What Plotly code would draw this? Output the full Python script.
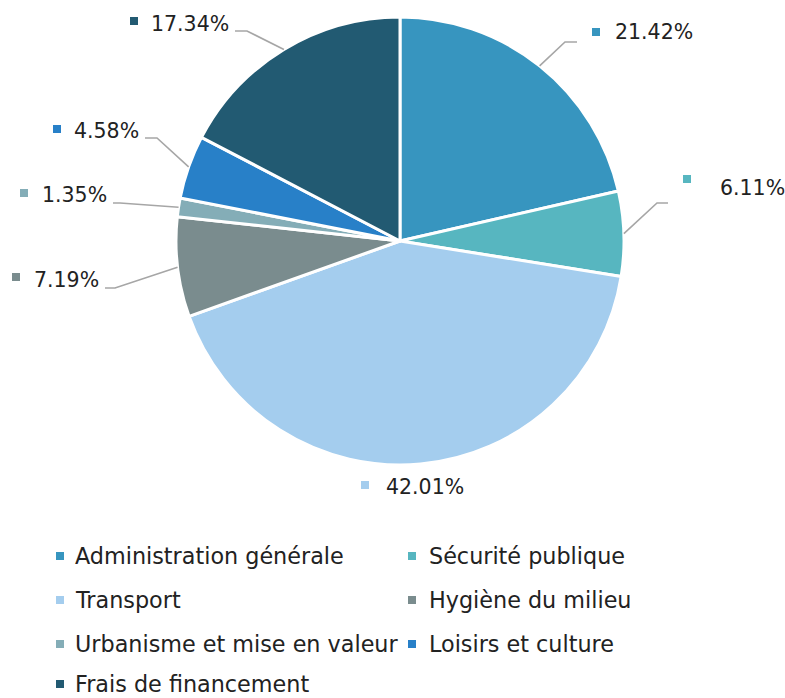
import math
import plotly.graph_objects as go

# ---- data ----
categories = ["Administration générale", "Sécurité publique", "Transport",
              "Hygiène du milieu", "Urbanisme et mise en valeur",
              "Loisirs et culture", "Frais de financement"]
percent_values = [21.42, 6.11, 42.01, 7.19, 1.35, 4.58, 17.34]
percent_labels = ["21.42%", "6.11%", "42.01%", "7.19%", "1.35%", "4.58%", "17.34%"]

# ---- style ----
colors = ["#3795BF", "#57B6C0", "#A4CDEE", "#7A8C8E", "#84ADB7", "#2880C8", "#225A72"]
W, H = 785, 698
CX, CY, R = 400, 241, 224
FONT = "DejaVu Sans"
TXT = "#222222"
LINE = "#A6A6A6"

# label placement (pixels): square left x/centre y, text x/centre y, anchor, leader pts
label_layout = [
    dict(sq=(592, 32), tx=(613, 32), anchor="left", lead=[(565, 42), (577, 42)]),
    dict(sq=(683, 179), tx=(718, 188), anchor="left", lead=[(657, 203), (668, 203)]),
    dict(sq=(361, 485), tx=(384, 487), anchor="left", lead=None),
    dict(sq=(12, 277), tx=(101, 280), anchor="right", lead=[(115, 288), (105, 288)]),
    dict(sq=(20, 193), tx=(109, 195), anchor="right", lead=[(120, 203), (113, 203)]),
    dict(sq=(53, 129), tx=(141, 131), anchor="right", lead=[(157, 138), (145, 138)]),
    dict(sq=(130, 21), tx=(231, 24), anchor="right", lead=[(247, 31), (235, 31)]),
]


def px(x):
    return x / W


def py(y):
    return 1 - y / H


fig = go.Figure(go.Pie(
    labels=categories,
    values=percent_values,
    sort=False,
    direction="clockwise",
    rotation=0,
    marker=dict(colors=colors, line=dict(color="white", width=3)),
    textinfo="none",
    hoverinfo="label+percent",
    domain=dict(x=[px(CX - R), px(CX + R)], y=[py(CY + R), py(CY - R)]),
    showlegend=False,
))

shapes = []
annotations = []
total = sum(percent_values)
cum = 0.0
SQ = 8
for i, v in enumerate(percent_values):
    mid = (cum + v / 2) / total * 2 * math.pi
    cum += v
    ex = CX + R * math.sin(mid)
    ey = CY - R * math.cos(mid)
    lay = label_layout[i]
    if lay["lead"]:
        pts = [(ex, ey)] + lay["lead"]
        path = "M " + " L ".join(f"{px(x):.5f},{py(y):.5f}" for x, y in pts)
        shapes.append(dict(type="path", path=path, xref="paper", yref="paper",
                           line=dict(color=LINE, width=1.6)))
    sx, sy = lay["sq"]
    shapes.append(dict(type="rect", xref="paper", yref="paper",
                       x0=px(sx), x1=px(sx + SQ), y0=py(sy + SQ / 2), y1=py(sy - SQ / 2),
                       fillcolor=colors[i], line=dict(width=0)))
    tx, ty = lay["tx"]
    annotations.append(dict(text=percent_labels[i], x=px(tx), y=py(ty), xref="paper", yref="paper",
                            xanchor=lay["anchor"], yanchor="middle", showarrow=False,
                            font=dict(family=FONT, size=20.5, color=TXT)))

# ---- legend (two columns) ----
col_sq_x = [56, 408]
col_tx_x = [73, 427]
row_y = [556, 600, 644, 684]
for i, name in enumerate(categories):
    r, c = divmod(i, 2)
    y = row_y[r]
    shapes.append(dict(type="rect", xref="paper", yref="paper",
                       x0=px(col_sq_x[c]), x1=px(col_sq_x[c] + SQ),
                       y0=py(y + SQ / 2), y1=py(y - SQ / 2),
                       fillcolor=colors[i], line=dict(width=0)))
    annotations.append(dict(text=name, x=px(col_tx_x[c]), y=py(y), xref="paper", yref="paper",
                            xanchor="left", yanchor="middle", showarrow=False,
                            font=dict(family=FONT, size=22.3, color=TXT)))

fig.update_layout(
    width=W, height=H,
    margin=dict(l=0, r=0, t=0, b=0),
    paper_bgcolor="white", plot_bgcolor="white",
    shapes=shapes, annotations=annotations,
    showlegend=False,
)

fig.write_html(
    "out.html",
    config={"displayModeBar": False},
    post_script="document.body.style.margin='0';document.body.style.overflow='hidden';",
)
